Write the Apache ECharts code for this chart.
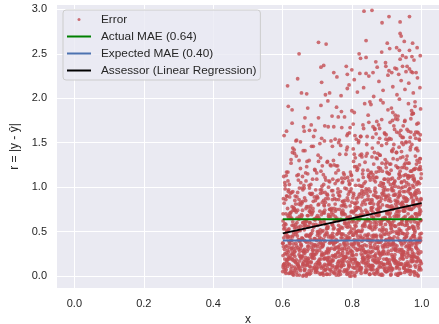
<!DOCTYPE html>
<html>
<head>
<meta charset="utf-8">
<script src="https://cdn.jsdelivr.net/npm/echarts@6/dist/echarts.min.js"></script>
<style>
  html, body { margin: 0; padding: 0; background: #fff; }
  #chart { width: 439px; height: 324px; }
</style>
</head>
<body>
<div id="chart"></div>
<script>
// error scatter (x values, then matching r values)
const band1X = [.602,.609,.618,.624,.633,.641,.647,.658,.663,.672,.679,.688,.694,.705,.711,.72,.728,.736,.745,.751,.762,.769,.776,.787,.793,.801,.81,.817,.826,.834,.843,.849,.858,.866,.875,.881,.892,.898,.907,.915,.922,.931,.939,.946,.955,.963,.971,.978,.986,.995,
  .605,.613,.621,.628,.637,.644,.653,.661,.667,.676,.684,.691,.699,.708,.716,.723,.733,.74,.748,.757,.764,.772,.781,.789,.797,.806,.813,.822,.829,.838,.846,.853,.862,.87,.878,.886,.894,.903,.911,.918,.927,.935,.943,.951,.959,.967,.975,.983,.991,.998,
  .601,.607,.615,.626,.631,.639,.65,.656,.665,.671,.682,.686,.697,.702,.713,.718,.726,.731,.742,.753,.759,.767,.774,.784,.791,.799,.808,.815,.824,.832,.84,.851,.856,.864,.873,.879,.889,.896,.905,.913,.92,.929,.937,.944,.953,.961,.969,.98,.988,.993,
  .604,.612,.619,.63,.635,.646,.651,.66,.669,.674,.681,.692,.7,.706,.715,.721,.73,.738,.744,.755,.761,.77,.779,.785,.795,.803,.811,.819,.827,.836,.844,.855,.86,.868,.877,.884,.891,.9,.909,.917,.925,.933,.941,.949,.957,.966,.973,.981,.99,.997,
  .608,.616,.623,.629,.642,.648,.655,.664,.67,.678,.687,.695,.703,.71,.719,.725,.735,.743,.75,.758,.766,.777,.783,.792,.8,.807,.816,.825,.831,.841,.847,.857,.865,.872,.883,.888,.899,.904,.914,.921,.93,.938,.947,.954,.962,.97,.979,.987,.994,
  .600,.606,.614,.622,.629,.638,.643,.652,.659,.668,.675,.683,.69,.698,.707,.714,.722,.729,.739,.746,.754,.763,.77,.778,.786,.794,.803,.809,.818,.825,.835,.842,.85,.857,.867,.874,.882,.89,.897,.908,.913,.923,.929,.94,.945,.956,.962,.972,.98,.989,
  .603,.61,.62,.627,.634,.64,.649,.657,.666,.673,.68,.691,.696,.704,.712,.719,.73,.735,.743,.752,.76,.768,.775,.782,.79,.8,.806,.814,.823,.83,.839,.846,.854,.863,.87,.876,.887,.893,.902,.91,.917,.926,.934,.942,.95,.958,.967,.976,.985,.996,
  .607,.613,.625,.632,.636,.647,.654,.662,.671,.677,.685,.693,.703,.709,.717,.727,.732,.741,.75,.756,.765,.773,.78,.788,.798,.805,.812,.82,.828,.837,.845,.852,.861,.869,.878,.885,.894,.901,.906,.916,.924,.932,.938,.948,.953,.964,.97,.977,.984,.992,
  .601,.611,.617,.624,.633,.644,.65,.658,.664,.67,.681,.688,.694,.701,.71,.716,.724,.734,.737,.748,.758,.762,.771,.776,.785,.792,.801,.81,.816,.826,.832,.84,.848,.859,.865,.871,.88,.888,.899,.904,.912,.921,.928,.936,.943,.951,.96,.968,.974,.999];
const band1Y = [.12,.03,.21,.08,.17,.01,.24,.14,.06,.19,.10,.23,.04,.15,.09,.20,.02,.13,.18,.07,
  .22,.11,.05,.16,.00,.24,.09,.14,.03,.19,.07,.21,.12,.02,.17,.10,.25,.05,.15,.08,
  .18,.01,.13,.23,.06,.11,.20,.04,.16,.09,.14,.24,.03,.19,.08,.12,.22,.01,.17,.06,
  .21,.10,.15,.02,.24,.07,.13,.18,.04,.11,.05,.16,.22,.09,.00,.19,.12,.07,.23,.14,
  .17,.08,.03,.20,.11,.25,.06,.15,.01,.18,.09,.13,.24,.04,.16,.02,.21,.10,.19,.07,
  .23,.05,.14,.11,.01,.18,.08,.22,.12,.03,.16,.20,.06,.13,.24,.09,.02,.17,.10,.21,
  .04,.15,.19,.07,.12,.23,.00,.14,.08,.18,.11,.02,.22,.16,.05,.20,.13,.09,.25,.06,
  .19,.10,.03,.24,.14,.07,.17,.01,.21,.12,.08,.18,.13,.04,.22,.11,.06,.16,.02,.20,
  .15,.24,.09,.19,.03,.13,.21,.07,.17,.10,.01,.12,.20,.06,.16,.23,.04,.14,.09,.18,
  .22,.07,.11,.25,.02,.15,.19,.05,.13,.08,.17,.03,.14,.10,.21,.06,.24,.12,.00,.16,
  .09,.20,.05,.18,.13,.01,.22,.08,.15,.11,.24,.06,.16,.03,.19,.12,.07,.23,.10,.14,
  .02,.17,.21,.11,.04,.18,.13,.09,.20,.05,.13,.08,.23,.15,.01,.10,.19,.06,.24,.16,
  .11,.03,.19,.07,.14,.22,.05,.17,.09,
  .05,.19,.11,.23,.02,.15,.08,.21,.13,.00,.17,.06,.24,.10,.14,.03,.20,.09,.16,.22,
  .01,.12,.18,.07,.25,.04,.14,.19,.10,.06,.21,.15,.02,.11,.17,.08,.23,.13,.05,.18,
  .09,.24,.14,.03,.20,.12,.06,.16,.22,.01,.13,.07,.19,.25,.10,.04,.17,.11,.21,.15,
  .03,.20,.08,.14,.23,.06,.18,.02,.12,.24,.16,.10,.22,.05,.13,.19,.01,.15,.09,.20,
  .07,.23,.12,.18,.04,.16,.25,.08,.14,.11,.19,.02,.15,.21,.09,.13,.06,.22,.03,.17,
  .12,.18,.04,.24,.16,.10,.20,.07,.13,.02,.22,.08,.17,.11,.01,.19,.14,.05,.23,.10,
  .06,.14,.21,.03,.18,.09,.24,.12,.16,.04,.20,.11,.07,.15,.25,.02,.13,.18,.08,.22,
  .14,.01,.19,.09,.12,.23,.05,.17,.21,.07,.10,.16,.03,.20,.06,.14,.22,.00,.18,.12,
  .24,.09,.13,.04,.19,.11,.07,.21,.15,.03,.08,.17,.23,.12,.02,.20,.10,.16,.06,.25,
  .15,.04,.11,.18,.22,.07,.14,.01,.19,.09,.02,.21,.16,.08,.13,.24,.05,.11,.17,.14];

const band2X = [.6,.61,.616,.625,.632,.64,.649,.657,.666,.673,.68,.689,.696,.704,.712,.721,.729,.737,.744,.753,.76,.768,.777,.785,.794,.802,.809,.818,.827,.833,.842,.85,.859,.867,.874,.882,.891,.899,.906,.916,.923,.932,.94,.948,.956,.964,.972,.98,.989,.997,
  .603,.614,.62,.63,.636,.645,.654,.659,.668,.677,.685,.693,.701,.707,.717,.725,.732,.741,.749,.756,.765,.773,.78,.79,.798,.805,.814,.823,.83,.837,.847,.854,.863,.871,.877,.887,.895,.902,.91,.919,.928,.936,.943,.952,.96,.968,.977,.984,.992,
  .606,.612,.622,.627,.638,.643,.651,.662,.67,.675,.684,.691,.699,.709,.714,.723,.734,.739,.747,.758,.763,.771,.782,.787,.796,.806,.811,.82,.828,.839,.844,.852,.861,.869,.88,.884,.893,.904,.908,.918,.925,.934,.945,.95,.958,.966,.975,.982,.99,.999,
  .609,.618,.628,.634,.647,.652,.663,.671,.682,.688,.698,.706,.715,.727,.733,.743,.751,.759,.77,.778,.786,.797,.803,.816,.824,.835,.843,.853,.858,.87,.876,.889,.897,.905,.912,.924,.931,.941,.949,.959,.965,.976,.986,.994,
  .602,.608,.617,.623,.631,.639,.646,.655,.661,.669,.678,.686,.694,.702,.71,.718,.726,.735,.742,.75,.757,.766,.774,.781,.789,.797,.806,.813,.821,.829,.838,.845,.853,.862,.869,.878,.885,.894,.9,.909,.917,.926,.933,.941,.949,.957,.965,.973,.981,.99,
  .605,.613,.621,.628,.637,.644,.65,.659,.667,.674,.683,.69,.697,.706,.713,.722,.73,.738,.745,.754,.761,.769,.778,.784,.793,.801,.808,.817,.825,.834,.841,.849,.857,.865,.873,.881,.889,.898,.906,.913,.921,.929,.938,.946,.953,.962,.97,.978,.986,.995,
  .601,.611,.619,.626,.635,.642,.653,.657,.664,.672,.681,.688,.7,.704,.716,.72,.728,.74,.747,.752,.763,.771,.776,.786,.791,.803,.81,.815,.827,.836,.843,.851,.86,.867,.876,.883,.891,.903,.911,.919,.924,.936,.943,.951,.96,.967,.974,.983,.993,.998,
  .614,.629,.648,.662,.679,.695,.711,.731,.744,.759,.772,.788,.799,.816,.831,.847,.855,.872,.887,.896,.915,.93,.944,.955,.963,.971,.979,.987,.992,.997];
const band2Y = [.37,.26,.44,.31,.49,.34,.28,.42,.39,.30,.47,.33,.25,.41,.36,.45,.29,.38,.48,.32,
  .27,.43,.35,.40,.26,.46,.31,.37,.50,.29,.34,.41,.28,.45,.33,.38,.47,.25,.42,.36,
  .30,.48,.39,.27,.44,.32,.35,.49,.26,.40,.43,.29,.37,.46,.31,.41,.34,.28,.45,.38,
  .25,.42,.33,.48,.36,.27,.44,.39,.30,.47,.35,.26,.41,.32,.49,.37,.29,.43,.34,.46,
  .28,.40,.45,.31,.38,.26,.47,.33,.42,.36,.48,.30,.35,.43,.27,.39,.46,.32,.41,.25,
  .34,.44,.29,.37,.50,.31,.40,.28,.45,.36,.42,.27,.38,.33,.47,.30,.43,.35,.26,.49,
  .31,.45,.36,.29,.41,.48,.34,.39,.27,.44,.37,.32,.46,.25,.40,.35,.28,.43,.38,.30,
  .47,.26,.42,.34,.31,.45,.37,.29,.48,.33,.39,.44,.27,.41,.36,.30,.46,.32,.25,.40,
  .29,.35,.49,.28,.43,.38,.33,.47,.31,.42,.36,.46,.30,.45,.26,.41,.34,.39,.44,.28,
  .32,.40,.47,.35,.29,.43,.37,.27,.48,.34,.45,.31,.38,
  .33,.46,.27,.40,.36,.49,.30,.43,.25,.38,.44,.29,.35,.48,.32,.41,.26,.37,.45,.31,
  .39,.25,.47,.34,.42,.28,.36,.50,.30,.43,.27,.40,.32,.46,.38,.26,.44,.33,.49,.35,
  .41,.31,.48,.29,.37,.45,.34,.27,.42,.39,.30,.43,.36,.25,.47,.32,.40,.28,.46,.34,
  .48,.35,.29,.44,.26,.39,.31,.45,.37,.41,.32,.47,.38,.30,.43,.27,.49,.36,.33,.42,
  .26,.40,.45,.35,.31,.46,.28,.41,.38,.29,.44,.34,.27,.48,.39,.30,.43,.25,.36,.47,
  .37,.49,.32,.40,.28,.45,.35,.42,.26,.33,.41,.29,.46,.36,.34,.25,.47,.31,.44,.38,
  .30,.43,.37,.27,.48,.33,.39,.45,.29,.35,.46,.26,.42,.31,.38,.44,.28,.36,.49,.32,
  .35,.40,.30,.47,.25,.41,.37,.33,.43,.27,.45,.32,.39,.28,.46,.34,.42,.26,.38,.48,
  .29,.44,.35,.41,.31,.47,.27,.40,.34,.36,.42,.28,.48,.33,.37,.30,.45,.39,.25,.43];

const band3X = [.601,.611,.619,.627,.636,.645,.653,.662,.671,.679,.687,.695,.705,.713,.72,.73,.738,.746,.755,.763,.772,.78,.789,.797,.805,.814,.822,.831,.839,.847,.856,.865,.873,.881,.89,.898,.907,.915,.923,.932,.94,.949,.957,.966,.974,.982,.991,.998,
  .606,.615,.624,.631,.641,.649,.657,.667,.675,.683,.692,.7,.709,.717,.726,.734,.742,.751,.76,.768,.776,.785,.793,.802,.81,.818,.827,.835,.844,.852,.861,.869,.877,.886,.894,.903,.911,.92,.928,.936,.945,.953,.961,.97,.978,.987,.995,
  .603,.617,.629,.639,.651,.664,.673,.686,.698,.707,.719,.729,.741,.749,.761,.773,.782,.794,.806,.816,.825,.837,.848,.858,.867,.879,.888,.899,.909,.918,.929,.938,.947,.958,.968,.977,.986,.996,
  .609,.622,.634,.648,.659,.677,.69,.703,.716,.732,.744,.758,.77,.787,.799,.812,.829,.842,.854,.863,.875,.884,.896,.905,.913,.926,.934,.943,.951,.963,.972,.98,.989,.993,
  .603,.609,.618,.626,.634,.641,.65,.656,.664,.673,.68,.688,.697,.703,.711,.719,.727,.736,.743,.751,.759,.767,.775,.783,.791,.799,.808,.815,.823,.832,.84,.848,.855,.864,.871,.879,.888,.896,.904,.912,.921,.929,.937,.944,.952,.961,.969,.977,.985,.994,
  .606,.613,.621,.63,.638,.646,.654,.661,.669,.677,.685,.693,.701,.708,.716,.724,.732,.74,.748,.756,.764,.771,.779,.787,.795,.804,.811,.82,.828,.836,.844,.851,.86,.868,.876,.884,.892,.9,.908,.917,.925,.933,.941,.948,.956,.965,.973,.981,.989,.997,
  .601,.616,.623,.637,.643,.658,.666,.679,.689,.7,.71,.721,.73,.745,.753,.762,.77,.778,.788,.798,.805,.813,.821,.83,.838,.846,.853,.862,.87,.878,.886,.894,.902,.91,.919,.927,.935,.943,.95,.958,.966,.974,.982,.99,.997,.911,.887,.934,.958,.976];
const band3Y = [.62,.51,.70,.57,.74,.55,.66,.52,.68,.60,.73,.58,.64,.50,.71,.56,.67,.53,.63,.75,
  .54,.69,.59,.72,.61,.50,.65,.57,.74,.62,.67,.53,.71,.58,.64,.52,.69,.60,.56,.73,
  .51,.66,.62,.75,.55,.70,.59,.63,.54,.68,.72,.57,.65,.52,.74,.61,.56,.69,.64,.50,
  .60,.71,.53,.67,.58,.73,.62,.55,.70,.65,.56,.63,.74,.51,.68,.59,.72,.54,.66,.61,
  .69,.52,.64,.71,.57,.62,.50,.73,.58,.67,.63,.75,.55,.60,.70,.53,.66,.61,.72,.56,
  .58,.68,.51,.65,.73,.60,.54,.71,.62,.57,.74,.59,.67,.53,.64,.69,.56,.63,.52,.70,
  .61,.55,.72,.66,.50,.68,.59,.74,.57,.65,.53,.70,.62,.58,.71,.54,.67,.60,.73,.64,
  .66,.51,.69,.57,.63,.72,.55,.61,.68,.52,.71,.60,.56,.74,.59,.65,.62,.53,.70,.58,
  .64,.73,.54,.67,.61,.57,.69,
  .57,.70,.53,.65,.74,.60,.51,.68,.62,.55,.72,.58,.66,.50,.69,.63,.54,.75,.59,.67,
  .52,.64,.71,.56,.61,.73,.57,.66,.50,.69,.62,.55,.74,.60,.68,.52,.65,.58,.71,.54,
  .67,.73,.51,.63,.57,.70,.61,.53,.66,.72,.59,.50,.68,.74,.55,.64,.69,.56,.62,.60,
  .71,.63,.57,.52,.72,.58,.67,.74,.54,.65,.53,.69,.61,.66,.50,.71,.56,.63,.73,.58,
  .64,.57,.72,.55,.68,.62,.52,.70,.60,.75,.56,.67,.59,.73,.61,.54,.66,.51,.69,.63,
  .70,.52,.65,.58,.74,.60,.57,.72,.55,.68,.61,.74,.54,.69,.63,.51,.71,.59,.66,.53,
  .73,.60,.68,.56,.62,.70,.55,.64,.58,.72,.50,.66,.62,.71,.57,.67,.53,.61,.74,.59,
  .65,.56,.70,.54,.73,.58,.63,.69,.52,.64];

const band4X = [.602,.614,.626,.637,.648,.658,.669,.681,.691,.702,.712,.723,.735,.745,.754,.766,.776,.786,.797,.807,.817,.826,.836,.846,.856,.865,.874,.884,.893,.902,.911,.919,.928,.937,.945,.954,.962,.971,.979,.988,.996,
  .607,.62,.631,.643,.655,.666,.677,.687,.699,.709,.72,.731,.741,.751,.762,.772,.782,.792,.802,.812,.821,.831,.84,.849,.859,.868,.878,.887,.896,.905,.914,.923,.932,.941,.95,.958,.967,.975,.984,.992,
  .611,.629,.646,.663,.679,.695,.714,.728,.743,.759,.774,.788,.804,.815,.828,.843,.853,.862,.871,.881,.89,.899,.908,.916,.925,.934,.943,.952,.96,.969,.977,.985,.994,
  .617,.652,.685,.718,.748,.779,.81,.834,.857,.876,.895,.913,.931,.948,.965,.981,.998,
  .604,.616,.627,.636,.647,.656,.667,.678,.688,.698,.708,.719,.729,.738,.749,.759,.769,.779,.789,.799,.809,.818,.828,.838,.848,.857,.867,.876,.886,.895,.905,.914,.924,.933,.943,.952,.961,.971,.98,.99,
  .609,.622,.633,.641,.652,.662,.673,.683,.694,.704,.714,.724,.733,.744,.755,.764,.774,.784,.794,.804,.814,.823,.833,.843,.852,.862,.872,.881,.89,.9,.909,.919,.928,.938,.947,.956,.966,.975,.985,.995,
  .612,.635,.658,.681,.701,.722,.741,.761,.778,.796,.813,.828,.842,.855,.866,.877,.888,.897,.906,.915,.924,.932,.94,.947,.954,.96,.966,.972,.977,.982,.986,.993,.998,.851,.903,.872,.918,.935,.957,.981];
const band4Y = [.87,.76,.94,.81,.99,.84,.78,.92,.89,.80,.97,.83,.75,.91,.86,.95,.79,.88,.98,.82,
  .77,.93,.85,.90,.76,.96,.81,.87,1.00,.79,.84,.91,.78,.95,.83,.88,.97,.75,.92,.86,
  .80,.98,.89,.77,.94,.82,.85,.99,.76,.90,.93,.79,.87,.96,.81,.91,.84,.78,.95,.88,
  .75,.92,.83,.98,.86,.77,.94,.89,.80,.97,.85,.76,.91,.82,.99,.87,.79,.93,.84,.96,
  .78,.90,.95,.81,.88,.76,.97,.83,.92,.86,.98,.80,.85,.93,.77,.89,.96,.82,.91,.75,
  .84,.94,.79,.87,1.00,.81,.90,.78,.95,.86,.92,.77,.88,.83,.97,.80,.93,.85,.76,.99,
  .81,.95,.86,.79,.91,.98,.84,.89,.77,.94,.87,
  .82,.95,.78,.90,.86,.99,.76,.93,.84,.88,.97,.80,.91,.75,.87,.94,.79,.85,.92,.83,
  .77,.89,.96,.81,.98,.84,.90,.76,.93,.86,.91,.79,.85,1.00,.82,.77,.95,.88,.80,.97,
  .86,.93,.76,.89,.83,.99,.78,.92,.85,.81,.94,.87,.80,.96,.75,.90,.84,.98,.79,.91,
  .83,.76,.92,.86,.95,.81,.88,.77,.97,.89,.78,.96,.84,.91,.80,.87,.99,.82,.93,.75,
  .90,.85,.97,.79,.88,.94,.76,.86,.81,.95,.87,.80,.93,.77,.99,.83,.91,.89,.78,.96,
  .92,.88,.81,.95,.84,.76,.98,.90,.85,.79,.80,.94,.86,.82,.97,.89,.77,.93,.84,.91];

const band5X = [.603,.619,.634,.651,.667,.683,.698,.713,.729,.744,.758,.771,.784,.797,.809,.82,.831,.842,.852,.862,.871,.88,.889,.898,.906,.914,.922,.93,.938,.946,.953,.961,.968,.975,.982,.989,.996,
  .611,.628,.645,.661,.676,.692,.707,.722,.737,.751,.764,.777,.79,.803,.814,.826,.837,.847,.857,.867,.876,.885,.894,.902,.91,.918,.926,.934,.942,.949,.957,.964,.971,.979,.986,.993,
  .607,.639,.672,.703,.733,.761,.787,.812,.834,.855,.874,.892,.908,.924,.939,.954,.967,.98,.992,
  .624,.657,.688,.718,.748,.775,.8,.823,.845,.864,.883,.9,.916,.932,.947,.961,.974,.987,.999,
  .615,.664,.71,.754,.793,.828,.859,.886,.911,.935,.957,.977,.995,
  .645,.735,.806,.869,.918,.96,.985,
  .606,.624,.641,.659,.676,.693,.709,.724,.739,.753,.767,.779,.792,.804,.816,.827,.838,.848,.858,.868,.877,.886,.895,.903,.911,.919,.927,.935,.943,.95,.958,.965,.972,.979,.986,.993,.998,
  .615,.633,.652,.669,.686,.702,.717,.732,.746,.76,.773,.786,.798,.81,.821,.832,.843,.853,.863,.872,.881,.89,.899,.907,.915,.923,.931,.939,.946,.954,.961,.968,.976,.983,.99,.997,
  .61,.647,.681,.714,.743,.77,.795,.818,.84,.86,.879,.896,.912,.928,.942,.956,.969,.982,.994,
  .629,.666,.698,.728,.756,.782,.807,.829,.85,.869,.887,.904,.92,.936,.95,.963,.977,.989,
  .67,.76,.83,.88,.92,.95,.978,.996,.9,.942];
const band5Y = [1.12,1.03,1.38,1.21,1.07,1.46,1.16,1.01,1.29,1.09,1.24,1.05,1.42,1.14,1.33,1.02,1.19,1.48,1.08,1.26,
  1.11,1.36,1.04,1.22,1.15,1.41,1.06,1.31,1.18,1.00,1.27,1.10,1.45,1.13,1.35,1.05,1.23,1.17,1.39,1.08,
  1.02,1.30,1.20,1.49,1.11,1.25,1.04,1.37,1.14,1.07,1.43,1.19,1.01,1.28,1.12,1.34,1.06,1.22,1.47,1.09,
  1.16,1.03,1.32,1.24,1.10,1.40,1.13,1.05,1.27,1.18,1.08,1.44,1.21,1.02,1.35,1.15,1.29,1.07,1.50,1.11,
  1.23,1.04,1.17,1.38,1.09,1.26,1.01,1.33,1.14,1.42,1.06,1.20,1.31,1.12,1.46,1.03,1.25,1.16,1.08,1.36,
  1.19,1.39,1.05,1.28,1.10,1.22,1.48,1.13,1.02,1.30,1.15,1.07,1.41,1.18,1.24,1.04,1.34,1.11,1.27,1.09,
  1.45,1.21,1.00,1.32,1.14,1.06,1.37,1.17,1.43,1.12,1.26,
  1.05,1.27,1.13,1.41,1.02,1.19,1.33,1.08,1.24,1.16,1.47,1.10,1.03,1.29,1.21,1.37,1.06,1.14,1.44,1.11,
  1.18,1.01,1.31,1.09,1.26,1.04,1.39,1.15,1.22,1.07,1.35,1.12,1.48,1.20,1.03,1.28,1.10,1.17,1.42,1.05,
  1.23,1.09,1.36,1.14,1.00,1.30,1.19,1.06,1.45,1.13,1.02,1.25,1.11,1.38,1.16,1.08,1.32,1.21,1.04,1.49,
  1.15,1.40,1.07,1.22,1.12,1.34,1.01,1.27,1.18,1.09,1.43,1.06,1.20,1.13,1.30,1.03,1.24,1.46,1.10,1.17,
  1.08,1.35,1.14,1.02,1.26,1.19,1.39,1.05,1.31,1.12,1.21,1.04,1.44,1.16,1.09,1.28,1.07,1.37,1.23,1.01,
  1.11,1.33,1.18,1.06,1.48,1.14,1.25,1.03,1.20,1.41,1.29,1.08,1.15,1.36,1.04,1.22,1.10,1.32,1.17,1.06];

const band6X = [.604,.627,.651,.672,.693,.712,.73,.747,.763,.778,.792,.806,.819,.831,.843,.854,.865,.875,.885,.894,.903,.912,.92,.928,.936,.944,.951,.958,.965,.972,.979,.986,.993,
  .616,.662,.703,.739,.77,.799,.825,.848,.869,.889,.907,.924,.94,.955,.969,.983,.997,
  .64,.721,.785,.836,.879,.916,.947,.975,.99,
  .682,.755,.812,.86,.898,.932,.962,.981,
  .611,.638,.664,.689,.71,.731,.751,.769,.787,.803,.818,.833,.846,.859,.871,.882,.893,.903,.913,.922,.931,.939,.947,.955,.962,.969,.976,.983,.99,.996,
  .627,.677,.72,.76,.794,.824,.851,.876,.897,.917,.935,.952,.967,.981,.994,
  .66,.742,.808,.865,.909,.943,.971,.988,.925,.879];
const band6Y = [1.58,1.72,1.51,1.89,1.64,1.55,1.97,1.68,1.53,1.79,1.61,1.84,1.52,1.70,1.57,1.93,1.66,1.50,1.76,1.60,
  1.87,1.54,1.69,1.62,1.99,1.56,1.74,1.65,1.51,1.82,1.59,1.71,1.54,1.91,1.63,1.78,1.52,1.67,1.86,1.57,
  1.73,1.60,1.95,1.55,1.81,1.64,1.50,1.77,1.62,1.88,1.53,1.69,1.58,1.94,1.66,1.75,1.56,1.83,1.61,1.70,
  1.90,1.54,1.68,1.59,1.80,1.63,1.96,
  1.63,1.52,1.78,1.57,1.92,1.68,1.54,1.85,1.60,1.71,1.50,1.66,1.81,1.56,1.74,1.98,1.61,1.53,1.89,1.65,
  1.76,1.58,1.69,1.51,1.94,1.62,1.83,1.55,1.72,1.59,1.87,1.64,1.52,1.79,1.67,1.57,1.96,1.70,1.54,1.84,
  1.61,1.75,1.56,1.91,1.53,1.68,1.80,1.58,1.65,1.73,1.50,1.86,1.62,1.77,1.55];

// sparse points above r = 2, read one by one
const tailPoints = [[.834,2.98],[.857,2.99],[.906,2.92],[.965,2.92],[.886,2.85],[.938,2.86],[.938,2.73],[.941,2.70],
  [.840,2.65],[.703,2.63],[.725,2.61],[.950,2.64],[.974,2.62],[.901,2.62],[.908,2.56],[.928,2.57],[.936,2.54],
  [.965,2.54],[.987,2.57],[.885,2.52],[.647,2.50],[.820,2.50],[.824,2.45],[.840,2.46],[.945,2.48],[.955,2.46],
  [.972,2.47],[.996,2.48],[.938,2.44],[.978,2.43],[.868,2.41],[.896,2.40],[.718,2.37],[.710,2.35],[.783,2.36],
  [.799,2.32],[.872,2.35],[.897,2.36],[.906,2.31],[.923,2.34],[.928,2.33],[.945,2.36],[.958,2.36],[.965,2.33],
  [.970,2.30],[.984,2.29],[.747,2.29],[.822,2.28],[.840,2.28],[.860,2.29],[.914,2.29],[.955,2.30],[.974,2.29],
  [.643,2.22],[.614,2.14],[.654,2.06],[.669,2.05],[.712,2.18],[.723,2.04],[.735,2.06],[.756,2.24],[.768,2.03],
  [.786,2.11],[.791,2.15],[.806,2.21],[.815,2.07],[.833,2.12],[.848,2.25],[.862,2.02],[.877,2.19],[.889,2.09],
  [.903,2.26],[.917,2.13],[.929,2.04],[.941,2.20],[.952,2.10],[.963,2.17],[.976,2.06],[.988,2.23],[.995,2.12],
  [.786,2.27],[.934,2.27]];

// reference lines
const lineX = [0.6, 1.0];
const actualMAE = 0.64;
const expectedMAE = 0.40;
const assessorY = [0.48, 0.82];

const FONT = '"Liberation Sans", Arial, sans-serif';
const TXT = '#262626';
const LINE_ICON = 'path://M0,0H24V2H0Z';

function zip(xs, ys) {
  const n = Math.min(xs.length, ys.length);
  const out = [];
  for (let i = 0; i < n; i++) out.push([xs[i], ys[i]]);
  return out;
}

const errorPoints = [].concat(
  zip(band1X, band1Y), zip(band2X, band2Y), zip(band3X, band3Y),
  zip(band4X, band4Y), zip(band5X, band5Y), zip(band6X, band6Y), tailPoints);

let myChart = echarts.init(document.getElementById('chart'));

let option = {
  animation: false,
  grid: { left: 57, right: 0, top: 5, bottom: 36, outerBoundsMode: 'none', containLabel: false,
    show: true, backgroundColor: '#EAEAF2', borderWidth: 0 },
  xAxis: {
    type: 'value', min: -0.05, max: 1.05,
    name: 'x', nameLocation: 'middle', nameGap: 25,
    nameTextStyle: { fontSize: 12, color: TXT, fontFamily: FONT },
    axisLine: { show: false }, axisTick: { show: false },
    axisLabel: { fontSize: 11, color: TXT, fontFamily: FONT, margin: 10, showMinLabel: false, showMaxLabel: false,
      formatter: v => v.toFixed(1) },
    splitLine: { show: true, showMinLine: false, showMaxLine: false, lineStyle: { color: '#ffffff', width: 1 } }
  },
  yAxis: {
    type: 'value', min: -0.135, max: 3.05,
    name: 'r = |y - ŷ|', nameLocation: 'middle', nameGap: 29,
    nameTextStyle: { fontSize: 12, color: TXT, fontFamily: FONT },
    axisLine: { show: false }, axisTick: { show: false },
    axisLabel: { fontSize: 11, color: TXT, fontFamily: FONT, margin: 10, showMinLabel: false, showMaxLabel: false,
      formatter: v => v.toFixed(1) },
    splitLine: { show: true, showMinLine: false, showMaxLine: false, lineStyle: { color: '#ffffff', width: 1 } }
  },
  legend: {
    orient: 'vertical', left: 63, top: 10,
    padding: [3, 4, 3, 4], itemGap: 4, itemWidth: 24, itemHeight: 3,
    backgroundColor: 'rgba(234,234,242,0.8)', borderColor: '#cccccc', borderWidth: 1, borderRadius: 3,
    textStyle: { fontSize: 11.8, color: TXT, fontFamily: FONT, lineHeight: 13, padding: [0, 0, 0, 5] },
    data: [
      { name: 'Error', icon: 'circle' },
      { name: 'Actual MAE (0.64)', icon: LINE_ICON },
      { name: 'Expected MAE (0.40)', icon: LINE_ICON },
      { name: 'Assessor (Linear Regression)', icon: LINE_ICON }
    ]
  },
  series: [
    {
      name: 'Error', type: 'scatter', data: errorPoints, symbolSize: 3.8, silent: true,
      itemStyle: { color: '#C44E52', opacity: 0.8 }
    },
    {
      name: 'Actual MAE (0.64)', type: 'line', symbol: 'none', silent: true, z: 3,
      data: lineX.map(x => [x, actualMAE]),
      lineStyle: { color: '#008000', width: 2 }, itemStyle: { color: '#008000' }
    },
    {
      name: 'Expected MAE (0.40)', type: 'line', symbol: 'none', silent: true, z: 4,
      data: lineX.map(x => [x, expectedMAE]),
      lineStyle: { color: '#4C72B0', width: 2 }, itemStyle: { color: '#4C72B0' }
    },
    {
      name: 'Assessor (Linear Regression)', type: 'line', symbol: 'none', silent: true, z: 5,
      data: lineX.map((x, i) => [x, assessorY[i]]),
      lineStyle: { color: '#000000', width: 2 }, itemStyle: { color: '#000000' }
    }
  ]
};

option && myChart.setOption(option);
</script>
</body>
</html>
